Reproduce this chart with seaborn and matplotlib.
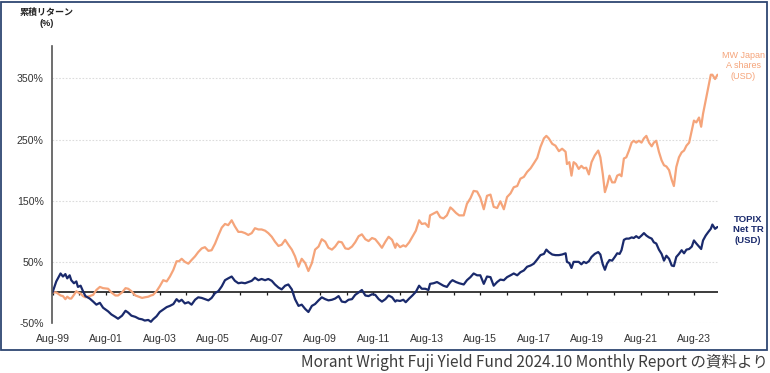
import matplotlib
matplotlib.use("Agg")
import matplotlib.pyplot as plt
from matplotlib.patches import Rectangle
import seaborn as sns
import pandas as pd
import numpy as np

# ---------------- data (decimal year, cumulative return %) ----------------
years = [
    1999.58, 1999.72, 1999.88, 1999.97, 2000.06, 2000.13, 2000.22, 2000.28, 2000.38, 2000.47,
    2000.53, 2000.63, 2000.72, 2000.81, 2000.97, 2001.10, 2001.22, 2001.35, 2001.47, 2001.66,
    2001.78, 2001.93, 2002.03, 2002.18, 2002.31, 2002.41, 2002.53, 2002.68, 2002.81, 2002.93,
    2003.03, 2003.16, 2003.26, 2003.34, 2003.47, 2003.59, 2003.72, 2003.85, 2003.97, 2004.10,
    2004.22, 2004.31, 2004.41, 2004.53, 2004.66, 2004.78, 2004.91, 2005.03, 2005.16, 2005.28,
    2005.41, 2005.53, 2005.66, 2005.78, 2005.91, 2006.03,
    2006.15, 2006.28, 2006.40, 2006.53, 2006.65, 2006.78, 2006.90, 2007.03, 2007.15, 2007.28,
    2007.40, 2007.53, 2007.65, 2007.78, 2007.90, 2008.03, 2008.15, 2008.28, 2008.40, 2008.53,
    2008.65, 2008.78, 2008.90, 2009.03, 2009.15, 2009.28, 2009.40, 2009.53, 2009.65, 2009.78,
    2009.90, 2010.03, 2010.15, 2010.28, 2010.40, 2010.53, 2010.65, 2010.78, 2010.90, 2011.03,
    2011.15, 2011.28, 2011.40, 2011.53, 2011.65, 2011.78, 2011.90, 2012.03, 2012.15, 2012.28,
    2012.40,
    2012.45, 2012.58, 2012.70, 2012.79, 2012.92, 2013.04, 2013.17, 2013.29, 2013.39, 2013.52,
    2013.64, 2013.70, 2013.83, 2013.96, 2014.08, 2014.20, 2014.33, 2014.46, 2014.54, 2014.67,
    2014.79, 2014.96, 2015.08, 2015.21, 2015.33, 2015.46, 2015.58, 2015.71, 2015.83, 2015.96,
    2016.08, 2016.21, 2016.33, 2016.46, 2016.58, 2016.71, 2016.83, 2016.96, 2017.08, 2017.21,
    2017.33, 2017.46, 2017.58, 2017.71, 2017.83, 2017.96, 2018.05, 2018.14, 2018.27, 2018.39,
    2018.52, 2018.64, 2018.77,
    2018.82, 2018.91, 2018.99, 2019.07, 2019.16, 2019.26, 2019.36, 2019.45, 2019.54, 2019.64,
    2019.74, 2019.86, 2019.99, 2020.07, 2020.16, 2020.24, 2020.32, 2020.41, 2020.51, 2020.61,
    2020.70, 2020.79, 2020.86, 2020.95, 2021.04, 2021.14, 2021.24, 2021.32, 2021.41, 2021.51,
    2021.61, 2021.70, 2021.79, 2021.89, 2021.99, 2022.07, 2022.16, 2022.26, 2022.36, 2022.45,
    2022.54, 2022.64, 2022.74, 2022.82, 2022.91, 2023.01, 2023.11, 2023.20, 2023.29, 2023.39,
    2023.49, 2023.57, 2023.66, 2023.76, 2023.84, 2023.91, 2024.01, 2024.11, 2024.20, 2024.26,
    2024.36, 2024.45,
]

mw_japan = [
    0, 0, -5, -6, -11, -7, -10, -10, -4, 2,
    0, -2, -6, -8, -6, -4, 4, 9, 7, 6,
    0, -5, -5, 0, 7, 6, 2, -5, -7, -9,
    -8, -7, -5, -4, 2, 10, 20, 18, 26, 37,
    51, 51, 55, 50, 47, 53, 59, 66, 72, 74,
    68, 69, 80, 93, 106, 112,
    110, 118, 108, 99, 99, 97, 94, 97, 105, 103,
    103, 101, 97, 91, 83, 76, 78, 86, 78, 70,
    59, 42, 55, 48, 35, 48, 70, 75, 87, 83,
    73, 70, 75, 83, 82, 72, 71, 75, 82, 92,
    95, 87, 84, 89, 87, 80, 73, 83, 91, 86,
    73,
    80, 74, 77, 75, 82, 91, 101, 118, 112, 113,
    107, 126, 129, 132, 123, 121, 126, 139, 136, 130,
    126, 126, 145, 154, 166, 165, 155, 136, 158, 160,
    140, 138, 149, 136, 156, 162, 172, 174, 186, 189,
    197, 203, 211, 220, 238, 252, 256, 252, 243, 240,
    231, 235, 230,
    210, 213, 191, 213, 210, 202, 207, 203, 204, 193,
    213, 224, 232, 221, 194, 164, 175, 191, 180, 180,
    191, 193, 190, 219, 221, 232, 245, 248, 245, 248,
    245, 252, 256, 245, 239, 245, 248, 230, 216, 208,
    206, 200, 184, 174, 205, 221, 229, 232, 240, 245,
    265, 281, 278, 286, 271, 292, 314, 336, 356, 356,
    349, 356,
]

topix = [
    0, 18, 31, 26, 30, 23, 28, 20, 15, 18,
    9, 11, 2, -6, -10, -15, -20, -17, -25, -31,
    -36, -40, -43, -38, -30, -33, -38, -40, -43, -44,
    -46, -45, -48, -44, -39, -32, -28, -24, -22, -19,
    -11, -15, -12, -18, -16, -20, -12, -8, -9, -11,
    -13, -9, -1, 2, 10, 20,
    23, 26, 19, 15, 16, 15, 17, 19, 24, 20,
    22, 20, 22, 19, 13, 8, 5, 11, 13, 5,
    -11, -22, -20, -27, -32, -22, -19, -13, -8, -11,
    -13, -12, -10, -6, -15, -16, -12, -11, -4, 0,
    4, -5, -6, -3, -4, -11, -15, -11, -5, -8,
    -15,
    -13, -14, -12, -16, -10, -5, 1, 11, 6, 6,
    4, 14, 15, 17, 14, 11, 9, 17, 20, 17,
    15, 13, 20, 25, 31, 28, 28, 14, 26, 25,
    11, 17, 21, 20, 25, 28, 31, 28, 33, 36,
    42, 44, 47, 54, 61, 63, 70, 66, 62, 61,
    61, 62, 64,
    50, 48, 40, 50, 50, 50, 46, 50, 48, 51,
    58, 63, 66, 62, 46, 37, 47, 53, 52, 58,
    64, 63, 69, 86, 88, 88, 90, 89, 92, 89,
    93, 97, 93, 90, 88, 82, 80, 70, 63, 52,
    60, 55, 44, 43, 58, 63, 69, 64, 70, 71,
    75, 85, 80, 75, 71, 85, 93, 99, 104, 111,
    104, 107,
]

y_ticks = [-50, 50, 150, 250, 350]
y_tick_labels = ["-50%", "50%", "150%", "250%", "350%"]
x_label_years = [1999.583 + 2 * i for i in range(13)]
x_tick_labels = ["Aug-99", "Aug-01", "Aug-03", "Aug-05", "Aug-07", "Aug-09", "Aug-11",
                 "Aug-13", "Aug-15", "Aug-17", "Aug-19", "Aug-21", "Aug-23"]
minor_tick_years = [1999.583 + i for i in range(26)]

ORANGE = "#F5A47A"
NAVY = "#1A2A6C"

df = pd.DataFrame({"year": years, "MW Japan A shares (USD)": mw_japan, "TOPIX Net TR (USD)": topix})
long = df.melt(id_vars="year", var_name="series", value_name="ret")

# ---------------- figure ----------------
sns.set_theme(style="white")
plt.rcParams["font.family"] = ["Liberation Sans", "Noto Sans CJK JP", "DejaVu Sans"]

fig = plt.figure(figsize=(7.7, 3.73), dpi=100)
ax = fig.add_axes([52 / 770, 1 - 323 / 373, 666 / 770, 277 / 373])

sns.lineplot(data=long, x="year", y="ret", hue="series",
             palette={"MW Japan A shares (USD)": ORANGE, "TOPIX Net TR (USD)": NAVY},
             linewidth=1.6, legend=False, ax=ax)

ax.set_xlim(1999.56, 2024.47)
ax.set_ylim(-50, 403)

for yv in y_ticks:
    ax.axhline(yv, color="#dcdcdc", lw=0.8, ls=(0, (1.5, 1.5)), zorder=0)
ax.axhline(0, color="#1a1a1a", lw=1.2, zorder=1)
ax.vlines(minor_tick_years, -5, 0, color="#1a1a1a", lw=0.9, zorder=1)

ax.set_yticks(y_ticks)
ax.set_yticklabels(y_tick_labels)
ax.set_xticks(x_label_years)
ax.set_xticklabels(x_tick_labels)
ax.tick_params(axis="y", direction="in", length=3, width=0.8, color="#555555",
               labelsize=7.6, labelcolor="#333333", pad=6)
ax.tick_params(axis="x", length=0, labelsize=7.6, labelcolor="#333333", pad=8)
ax.set_xlabel("")
ax.set_ylabel("")

for s in ["top", "right", "bottom"]:
    ax.spines[s].set_visible(False)
ax.spines["left"].set_color("#555555")
ax.spines["left"].set_linewidth(1.2)

# axis title
fig.text(47 / 770, 1 - 12 / 373, "累積リターン", ha="center", va="center", fontsize=6.5,
         fontweight="bold", color="#222222", family=["Noto Sans CJK JP", "DejaVu Sans"])
fig.text(47 / 770, 1 - 23 / 373, "(%)", ha="center", va="center", fontsize=6.5,
         fontweight="bold", color="#222222", family=["Liberation Sans", "DejaVu Sans"])

# series labels
fig.text(743 / 770, 1 - 66 / 373, "MW Japan\nA shares\n(USD)", ha="center", va="center",
         fontsize=6.5, color=ORANGE, linespacing=1.2)
fig.text(748 / 770, 1 - 230 / 373, "TOPIX\nNet TR\n(USD)", ha="center", va="center",
         fontsize=6.8, color=NAVY, fontweight="bold", linespacing=1.2)

# outer frame
fig.patches.append(Rectangle((1 / 770, 1 - 350 / 373), 766 / 770, 348.5 / 373,
                             transform=fig.transFigure, fill=False,
                             edgecolor="#2E4672", linewidth=1.3))

# caption
fig.text(768 / 770, 1 - 362 / 373,
         "Morant Wright Fuji Yield Fund 2024.10 Monthly Report の資料より",
         ha="right", va="center", fontsize=11.15, color="#3d3d3d",
         family=["Noto Sans CJK JP", "DejaVu Sans"])

fig.savefig("out.png", dpi=100)
